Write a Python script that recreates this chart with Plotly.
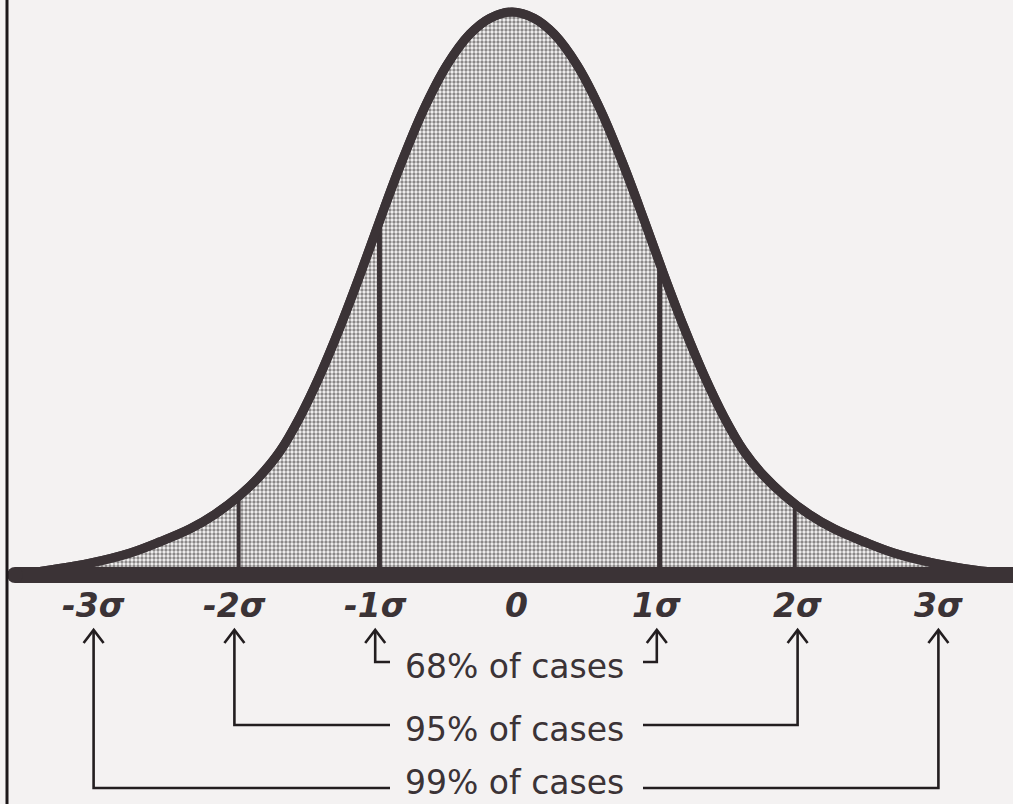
import plotly.graph_objects as go

# Bell curve outline, read in sigma units (x) and height relative to the peak (y)
curve_x = [-3.558, -3.310, -3.026, -2.741, -2.528, -2.315, -2.138, -1.960, -1.818,
           -1.676, -1.534, -1.392, -1.250, -1.108, -0.966, -0.824, -0.661, -0.490,
           -0.327, -0.185, -0.028, 0.128, 0.270, 0.433, 0.604, 0.767, 0.909, 1.051,
           1.193, 1.335, 1.477, 1.619, 1.761, 1.903, 2.081, 2.259, 2.472, 2.685,
           2.969, 3.253, 3.530]
curve_y = [0.000, 0.009, 0.021, 0.039, 0.059, 0.082, 0.108, 0.142, 0.176,
           0.220, 0.281, 0.355, 0.440, 0.533, 0.631, 0.726, 0.824, 0.906,
           0.961, 0.989, 1.000, 0.989, 0.961, 0.906, 0.824, 0.726, 0.631, 0.533,
           0.440, 0.355, 0.281, 0.220, 0.176, 0.142, 0.108, 0.082, 0.059, 0.039,
           0.021, 0.009, 0.002]

# Division lines drawn under the curve
band_edges = [-1.97, -0.97, 1.02, 1.98]

# Axis labels
sigma_ticks = [-3, -2, -1, 0, 1, 2, 3]
tick_labels = ["-3σ", "-2σ", "-1σ", "0", "1σ", "2σ", "3σ"]

# Share of cases within each range
coverage_labels = ["68% of cases", "95% of cases", "99% of cases"]
coverage_lo = [-1, -2, -3]
coverage_hi = [1, 2, 3]

INK = "#3b3336"
LINE_INK = "#231e20"
BG = "#f4f2f2"
PX_X = 140.8   # pixels per sigma
PX_Y = 563.0   # pixels per unit height
X0 = 516.0
Y0 = 575.0


def dx(px):
    return px / PX_X


def dy(px):
    return px / PX_Y


def height_at(x):
    for i in range(len(curve_x) - 1):
        a, b = curve_x[i], curve_x[i + 1]
        if a <= x <= b:
            t = (x - a) / (b - a)
            return curve_y[i] + t * (curve_y[i + 1] - curve_y[i])
    return 0.0


fig = go.Figure()

# dotted shading under the curve
fig.add_trace(go.Scatter(
    x=curve_x, y=curve_y, mode="lines",
    line=dict(color=INK, width=9, shape="spline", smoothing=1.0),
    fill="tozeroy", fillcolor=BG,
    fillpattern=dict(shape=".", size=4, solidity=0.55, fgcolor="#1f1b1c", bgcolor="#f7f5f5"),
    hoverinfo="skip", showlegend=False))

# division lines
for e, w in zip(band_edges, [4, 5, 5, 4]):
    fig.add_trace(go.Scatter(x=[e, e], y=[0, height_at(e)], mode="lines",
                             line=dict(color=INK, width=w), hoverinfo="skip", showlegend=False))

# outline above the division lines
fig.add_trace(go.Scatter(x=curve_x, y=curve_y, mode="lines",
                         line=dict(color=INK, width=9, shape="spline", smoothing=1.0),
                         hoverinfo="skip", showlegend=False))

# thick baseline with a rounded left end
fig.add_trace(go.Scatter(x=[curve_x[0], curve_x[-1] + 0.2], y=[0, 0], mode="lines",
                         line=dict(color=INK, width=16), hoverinfo="skip", showlegend=False))
fig.add_trace(go.Scatter(x=[curve_x[0]], y=[0], mode="markers",
                         marker=dict(color=INK, size=16, line=dict(width=0)),
                         hoverinfo="skip", showlegend=False))

# sigma labels
for v, t in zip(sigma_ticks, tick_labels):
    fig.add_annotation(x=v, y=-dy(30), text=t, showarrow=False, xanchor="center", yanchor="middle",
                       font=dict(family="DejaVu Sans", size=33, color=INK, weight="bold", style="italic"))

# bracket arrows linking each share to its range
tip = -dy(630 - Y0)
rows = [-dy(662 - Y0), -dy(725 - Y0), -dy(788 - Y0)]
gap_l = dx(390 - X0)
gap_r = dx(643 - X0)
hw = dx(10)
hh = dy(13)
for lab, lo, hi, row in zip(coverage_labels, coverage_lo, coverage_hi, rows):
    for xa, xg in ((lo, gap_l), (hi, gap_r)):
        fig.add_trace(go.Scatter(x=[xa, xa, xg], y=[tip, row, row], mode="lines",
                                 line=dict(color=LINE_INK, width=2.6), hoverinfo="skip", showlegend=False))
        fig.add_trace(go.Scatter(x=[xa - hw, xa, xa + hw], y=[tip - hh, tip, tip - hh], mode="lines",
                                 line=dict(color=LINE_INK, width=2.6), hoverinfo="skip", showlegend=False))

label_y = [-dy(666 - Y0), -dy(729 - Y0), -dy(804 - Y0)]
label_anchor = ["middle", "middle", "bottom"]
for lab, ly, anc in zip(coverage_labels, label_y, label_anchor):
    fig.add_annotation(x=dx(514 - X0), y=ly, text=lab, showarrow=False, xanchor="center", yanchor=anc,
                       font=dict(family="DejaVu Sans", size=33, color=INK))

# left frame edge
fig.add_shape(type="line", xref="paper", yref="paper", x0=7 / 1013, x1=7 / 1013, y0=0, y1=1,
              line=dict(color="#1c1719", width=3))

fig.update_layout(
    width=1013, height=804, margin=dict(l=0, r=0, t=0, b=0),
    paper_bgcolor=BG, plot_bgcolor=BG,
    xaxis=dict(range=[-X0 / PX_X, (1013 - X0) / PX_X], visible=False, fixedrange=True),
    yaxis=dict(range=[-(804 - Y0) / PX_Y, Y0 / PX_Y], visible=False, fixedrange=True),
    showlegend=False,
)

fig.write_html("out.html")
